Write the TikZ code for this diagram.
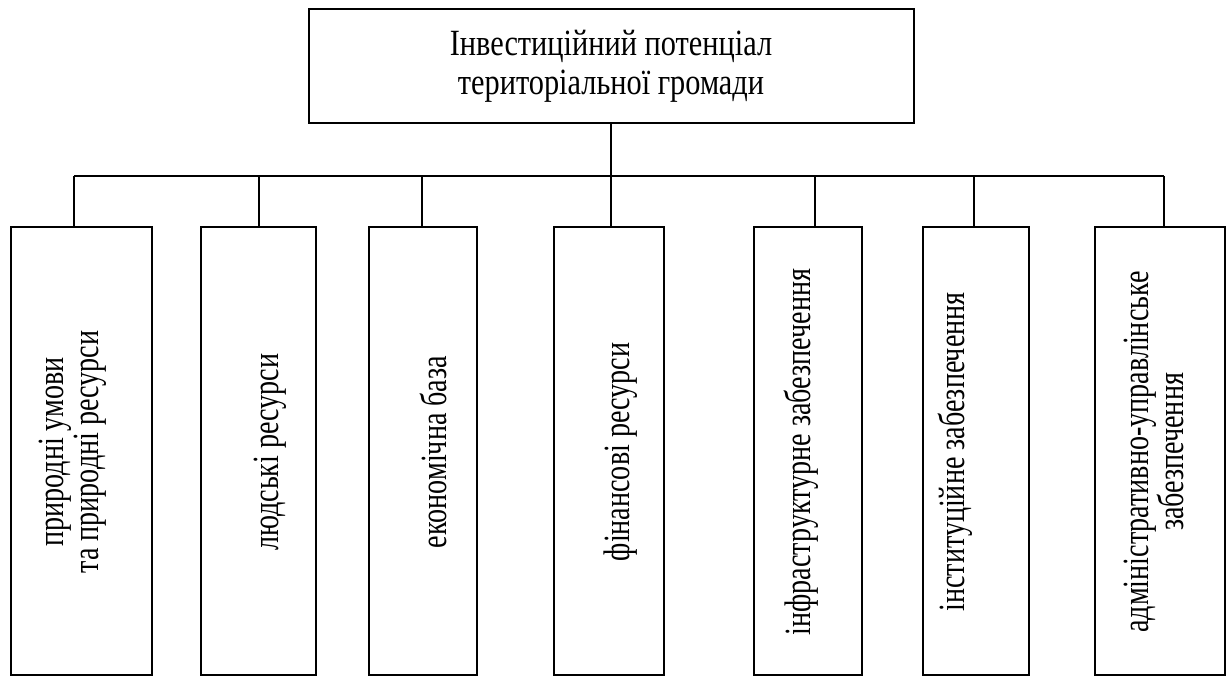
\documentclass[tikz,border=0pt]{standalone}
\usepackage{fontspec}
\setmainfont{Liberation Serif}[FakeStretch=0.76]
\newfontfamily\topfont{Liberation Serif}[FakeStretch=0.82]
\begin{document}
\begin{tikzpicture}[x=1pt,y=-1pt,
  box/.style={draw=black,line width=2pt,inner sep=0pt},
  conn/.style={draw=black,line width=2pt},
  vtxt/.style={rotate=90,align=center,font=\fontsize{37}{35}\selectfont,inner sep=0pt},
  htxt/.style={align=center,font=\topfont\fontsize{37}{39}\selectfont,inner sep=0pt}]
\useasboundingbox (0,0) rectangle (1227,677);
% top box
\node[box,minimum width=605pt,minimum height=114pt] (top) at (611,66) {};
\node[htxt] (toptxt) at (611,66) {Інвестиційний потенціал\\територіальної громади};
% bottom boxes
\node[box,minimum width=141pt,minimum height=448pt] (b1) at (81.5,451) {};
\node[box,minimum width=115pt,minimum height=448pt] (b2) at (258.5,451) {};
\node[box,minimum width=108pt,minimum height=448pt] (b3) at (423,451) {};
\node[box,minimum width=110pt,minimum height=448pt] (b4) at (609,451) {};
\node[box,minimum width=108pt,minimum height=448pt] (b5) at (808,451) {};
\node[box,minimum width=106pt,minimum height=448pt] (b6) at (976,451) {};
\node[box,minimum width=130pt,minimum height=448pt] (b7) at (1159.5,451) {};
% texts
\node[vtxt] (t1) at (73,452) {природні умови\\ та природні ресурси};
\node[vtxt] (t2) at (270,452) {людські ресурси};
\node[vtxt] (t3) at (433,452) {економічна база};
\node[vtxt] (t4) at (621,452) {фінансові ресурси};
\node[vtxt] (t5) at (801,452) {інфраструктурне забезпечення};
\node[vtxt] (t6) at (955,452) {інституційне забезпечення};
\node[vtxt] (t7) at (1154,452) {адміністративно-управлінське\\забезпечення};
% connectors
\coordinate (j1) at (74,176);
\coordinate (j2) at (259,176);
\coordinate (j3) at (422,176);
\coordinate (j4) at (611,176);
\coordinate (j5) at (815,176);
\coordinate (j6) at (974,176);
\coordinate (j7) at (1164,176);
\draw[conn] (top.south) -- (top.south |- j1);
\draw[conn] (j1) -- (j7);
\draw[conn] (j1) -- (j1 |- b1.north);
\draw[conn] (j2) -- (j2 |- b2.north);
\draw[conn] (j3) -- (j3 |- b3.north);
\draw[conn] (j4) -- (j4 |- b4.north);
\draw[conn] (j5) -- (j5 |- b5.north);
\draw[conn] (j6) -- (j6 |- b6.north);
\draw[conn] (j7) -- (j7 |- b7.north);
\end{tikzpicture}
\end{document}
